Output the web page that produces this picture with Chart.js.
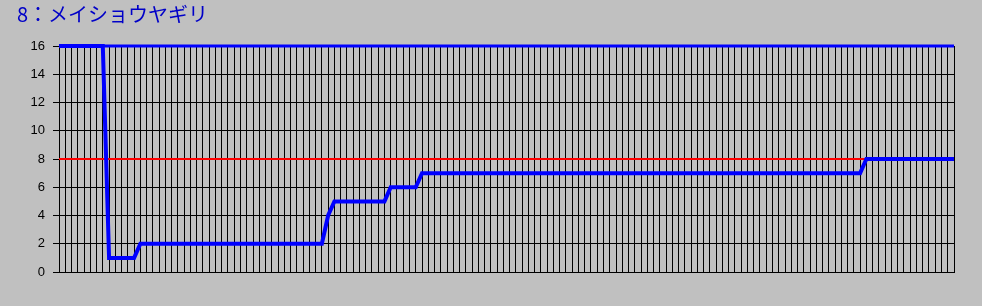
<!DOCTYPE html>
<html>
<head>
<meta charset="utf-8">
<script src="https://cdn.jsdelivr.net/npm/chart.js@4"></script>
<style>
  html, body { margin: 0; padding: 0; background: #c0c0c0; }
  #wrap { position: relative; width: 982px; height: 306px; }
  #title {
    position: absolute; left: 17px; top: 0px;
    font-family: "Noto Sans CJK JP", sans-serif; font-size: 20px; line-height: 27px;
    color: #0000c8; white-space: nowrap;
  }
</style>
</head>
<body>
<div id="wrap">
  <div id="title">8：メイショウヤギリ</div>
  <canvas id="chart" width="982" height="306"></canvas>
</div>
<script>
// popularity steps: [first index, value]
const steps = [[0, 16], [8, 1], [13, 2], [43, 4], [44, 5], [53, 6], [58, 7], [129, 8]];
const pointCount = 144;
const yTicks = [0, 2, 4, 6, 8, 10, 12, 14, 16];
const limitLine = 8;
const fieldSize = 16;

const labels = [];
const rank = [];
for (let i = 0; i < pointCount; i++) {
  labels.push(String(i + 1));
  let v = steps[0][1];
  for (const [start, val] of steps) if (i >= start) v = val;
  rank.push(v);
}
const topLine = labels.map(() => fieldSize);
const redLine = labels.map(() => limitLine);

const ctx = document.getElementById('chart').getContext('2d');
new Chart(ctx, {
  type: 'line',
  data: {
    labels: labels,
    datasets: [
      { data: rank, borderColor: '#0000ff', borderWidth: 4, pointRadius: 0, tension: 0, clip: 3, order: 0 },
      { data: topLine, borderColor: '#0000ff', borderWidth: 3, pointRadius: 0, clip: 3, order: 1 },
      { data: redLine, borderColor: '#ff0000', borderWidth: 2, pointRadius: 0, order: 2 }
    ]
  },
  options: {
    responsive: false,
    animation: false,
    events: [],
    layout: { padding: { left: 0, right: 28, top: 46, bottom: 34 } },
    plugins: { legend: { display: false }, tooltip: { enabled: false } },
    scales: {
      x: {
        type: 'category',
        offset: false,
        ticks: { display: false, autoSkip: false },
        grid: { color: '#000000', lineWidth: 1, drawTicks: false },
        border: { color: '#000000', width: 1 },
        afterFit: (s) => { s.height = 0; }
      },
      y: {
        min: 0, max: 16,
        afterBuildTicks: (s) => { s.ticks = yTicks.map(v => ({ value: v })); },
        ticks: { color: '#000000', padding: 8, font: { family: 'Liberation Sans, Arial', size: 13 } },
        grid: { color: '#000000', lineWidth: 1, tickLength: 6, tickColor: '#000000' },
        border: { color: '#000000', width: 1 },
        afterFit: (s) => { s.width = 59; }
      }
    }
  }
});
</script>
</body>
</html>
